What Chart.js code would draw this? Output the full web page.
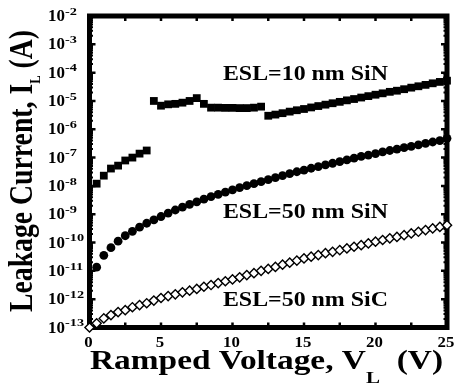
<!DOCTYPE html>
<html>
<head>
<meta charset="utf-8">
<script src="https://cdn.jsdelivr.net/npm/chart.js@4.4.0/dist/chart.umd.min.js"></script>
<style>
body{margin:0;background:#fff;font-family:"Liberation Serif";}
#wrap{width:457px;height:388px;}
</style>
</head>
<body>
<div id="wrap"><canvas id="leak" width="457" height="388"></canvas></div>
<script>
// ramp voltage (V) for the two SiN curves, SiC starts at 0
let volts=[0.5,1,1.5,2,2.5,3,3.5,4,4.5,5,5.5,6,6.5,7,7.5,8,8.5,9,9.5,10,
10.5,11,11.5,12,12.5,13,13.5,14,14.5,15,15.5,16,16.5,17,17.5,18,18.5,19,19.5,20,
20.5,21,21.5,22,22.5,23,23.5,24,24.5,25];
let voltsSiC=[0,0.5,1,1.5,2,2.5,3,3.5,4,4.5,5,5.5,6,6.5,7,7.5,8,8.5,9,9.5,10,
10.5,11,11.5,12,12.5,13,13.5,14,14.5,15,15.5,16,16.5,17,17.5,18,18.5,19,19.5,20,
20.5,21,21.5,22,22.5,23,23.5,24,24.5,25];

// leakage current (A)
let sin10=[1.2e-8,2.3e-8,4.1e-8,5.2e-8,7.9e-8,1.0e-7,1.38e-7,1.78e-7,1.0e-5,6.8e-6,
7.6e-6,7.9e-6,8.7e-6,1.0e-5,1.26e-5,7.9e-6,5.8e-6,5.8e-6,5.7e-6,5.7e-6,
5.6e-6,5.6e-6,5.8e-6,6.3e-6,3.0e-6,3.3e-6,3.7e-6,4.2e-6,4.7e-6,5.2e-6,
5.9e-6,6.6e-6,7.4e-6,8.3e-6,9.3e-6,1.05e-5,1.17e-5,1.32e-5,1.48e-5,1.66e-5,
1.86e-5,2.1e-5,2.3e-5,2.6e-5,2.95e-5,3.3e-5,3.7e-5,4.2e-5,4.7e-5,5.2e-5];
let sin50=[1.35e-11,3.55e-11,6.6e-11,1.12e-10,1.74e-10,2.5e-10,3.5e-10,4.8e-10,6.3e-10,8.3e-10,
1.1e-9,1.41e-9,1.78e-9,2.24e-9,2.75e-9,3.4e-9,4.2e-9,5.0e-9,6.0e-9,7.2e-9,
8.7e-9,1.02e-8,1.2e-8,1.41e-8,1.66e-8,1.95e-8,2.3e-8,2.7e-8,3.16e-8,3.6e-8,
4.2e-8,4.8e-8,5.5e-8,6.3e-8,7.2e-8,8.3e-8,9.5e-8,1.1e-7,1.23e-7,1.38e-7,
1.58e-7,1.78e-7,2.0e-7,2.24e-7,2.5e-7,2.8e-7,3.16e-7,3.55e-7,3.98e-7,4.8e-7];
let sic50=[1.0e-13,1.4e-13,2.1e-13,2.75e-13,3.5e-13,4.1e-13,5.2e-13,6.2e-13,7.2e-13,8.9e-13,1.1e-12,
1.29e-12,1.48e-12,1.74e-12,2.0e-12,2.3e-12,2.75e-12,3.16e-12,3.7e-12,4.3e-12,5.0e-12,
5.9e-12,7.1e-12,8.3e-12,1.0e-11,1.17e-11,1.38e-11,1.66e-11,1.95e-11,2.3e-11,2.75e-11,
3.16e-11,3.6e-11,4.2e-11,4.7e-11,5.4e-11,6.2e-11,7.1e-11,8.1e-11,9.3e-11,1.07e-10,
1.23e-10,1.41e-10,1.58e-10,1.82e-10,2.1e-10,2.4e-10,2.75e-10,3.16e-10,3.55e-10,4.1e-10];

let seriesNames=['ESL=10 nm SiN','ESL=50 nm SiN','ESL=50 nm SiC'];
let xTickLabels=[0,5,10,15,20,25];
let xTickMarks=[0,2.5,5,7.5,10,12.5,15,17.5,20,22.5,25];
let yTickExps=[-2,-3,-4,-5,-6,-7,-8,-9,-10,-11,-12,-13];

const SERIF='"Liberation Serif"';

// draw a run of text pieces, stretched sideways by sx
function drawParts(ctx,parts,x,y,sx,align){
  let w=0;
  parts.forEach(p=>{ctx.font=p.font;p.w=ctx.measureText(p.t).width;w+=p.w;});
  ctx.save();
  ctx.translate(x,y);
  ctx.scale(sx,1);
  let cx=align==='center'?-w/2:(align==='right'?-w:0);
  ctx.textAlign='left';
  parts.forEach(p=>{ctx.font=p.font;ctx.fillText(p.t,cx,p.dy||0);cx+=p.w;});
  ctx.restore();
}
function partsWidth(ctx,parts){
  let w=0;
  parts.forEach(p=>{ctx.font=p.font;w+=ctx.measureText(p.t).width;});
  return w;
}

const framePlugin={
  id:'frame',
  beforeDatasetsDraw(chart){
    const ctx=chart.ctx, a=chart.chartArea, xs=chart.scales.x, ys=chart.scales.y;
    ctx.save();
    ctx.strokeStyle='#000';
    ctx.fillStyle='#000';
    // x ticks, bottom and top, pointing in
    ctx.lineWidth=2.5;
    xTickMarks.forEach(v=>{
      const px=xs.getPixelForValue(v);
      ctx.beginPath();
      ctx.moveTo(px,a.bottom);ctx.lineTo(px,a.bottom-5);
      ctx.moveTo(px,a.top);ctx.lineTo(px,a.top+5);
      ctx.stroke();
    });
    // y ticks, left and right
    yTickExps.forEach(e=>{
      for(let m=1;m<10;m++){
        const v=m*Math.pow(10,e);
        if(v>1e-2*1.001) continue;
        const py=ys.getPixelForValue(v);
        const len=m===1?6:3.5;
        ctx.lineWidth=m===1?2.5:2;
        ctx.beginPath();
        ctx.moveTo(a.left,py);ctx.lineTo(a.left+len,py);
        ctx.moveTo(a.right,py);ctx.lineTo(a.right-len,py);
        ctx.stroke();
      }
    });
    // thick frame
    ctx.lineWidth=5;
    ctx.strokeRect(a.left,a.top,a.right-a.left,a.bottom-a.top);

    // y tick labels 10^n
    ctx.textBaseline='middle';
    yTickExps.forEach(e=>{
      const py=ys.getPixelForValue(Math.pow(10,e));
      drawParts(ctx,[{t:'10',font:'bold 16px '+SERIF}],48,py+1,1.06,'left');
      drawParts(ctx,[{t:String(e),font:'bold 11px '+SERIF}],65,py-4,1.3,'left');
    });
    // x tick labels
    xTickLabels.forEach(v=>{
      const px=xs.getPixelForValue(v);
      drawParts(ctx,[{t:String(v),font:'bold 14px '+SERIF}],px-1,343,1.2,'center');
    });

    // axis titles
    ctx.textBaseline='alphabetic';
    const xt=[{t:'Ramped Voltage, V',font:'bold 27px '+SERIF},
              {t:'L',font:'bold 17px '+SERIF,dy:14},
              {t:'  (V)',font:'bold 27px '+SERIF}];
    drawParts(ctx,xt,266.5,369,353/partsWidth(ctx,xt),'center');
    const yt=[{t:'Leakage Current, I',font:'bold 33px '+SERIF},
              {t:'L',font:'bold 15px '+SERIF,dy:8},
              {t:' (A)',font:'bold 33px '+SERIF}];
    ctx.save();
    ctx.translate(32,171);
    ctx.rotate(-Math.PI/2);
    drawParts(ctx,yt,0,0,282/partsWidth(ctx,yt),'center');
    ctx.restore();

    // curve labels
    ctx.textBaseline='middle';
    const lblY=[8.3e-5,1.1e-9,9e-13];
    seriesNames.forEach((n,i)=>{
      const p=[{t:n,font:'bold 20px '+SERIF}];
      drawParts(ctx,p,xs.getPixelForValue(15.1),ys.getPixelForValue(lblY[i]),165/partsWidth(ctx,p),'center');
    });
    ctx.restore();
  }
};

function makeChart(){
  return new Chart(document.getElementById('leak').getContext('2d'),{
    type:'scatter',
    data:{
      datasets:[
        {label:seriesNames[0],data:volts.map((v,i)=>({x:v,y:sin10[i]})),
         pointStyle:'rect',pointRadius:5.5,backgroundColor:'#000',borderColor:'#000',borderWidth:0,clip:false},
        {label:seriesNames[1],data:volts.map((v,i)=>({x:v,y:sin50[i]})),
         pointStyle:'circle',pointRadius:4.4,backgroundColor:'#000',borderColor:'#000',borderWidth:0,clip:false},
        {label:seriesNames[2],data:voltsSiC.map((v,i)=>({x:v,y:sic50[i]})),
         pointStyle:'rectRot',pointRadius:4.6,backgroundColor:'#fff',borderColor:'#000',borderWidth:1.4,clip:false}
      ]
    },
    options:{
      responsive:false,
      animation:false,
      events:[],
      layout:{padding:{left:0,top:16,right:10,bottom:0}},
      plugins:{legend:{display:false},tooltip:{enabled:false}},
      scales:{
        x:{type:'linear',min:0,max:25,
           ticks:{display:false},grid:{display:false},border:{display:false},
           afterFit(s){s.height=60.5;}},
        y:{type:'logarithmic',min:1e-13,max:1e-2,
           ticks:{display:false},grid:{display:false},border:{display:false},
           afterFit(s){s.width=89.5;}}
      }
    },
    plugins:[framePlugin]
  });
}

let chart;
Promise.all([
  document.fonts.load('bold 20px "Liberation Serif"'),
  document.fonts.load('bold 33px "Liberation Serif"')
]).then(()=>{chart=makeChart();}).catch(()=>{chart=makeChart();});
</script>
</body>
</html>
